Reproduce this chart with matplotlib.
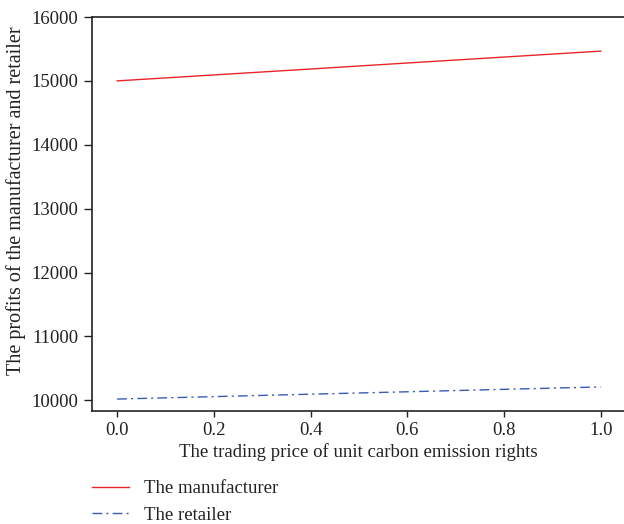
import numpy as np
import matplotlib.pyplot as plt

# ------------------------
# Data
# ------------------------
price = [0.0, 0.2, 0.4, 0.6, 0.8, 1.0]
manufacturer = [15000, 15093, 15186, 15280, 15373, 15466]
retailer = [10020, 10058, 10096, 10134, 10172, 10210]

yticks = [10000, 11000, 12000, 13000, 14000, 15000, 16000]
xticks = [0.0, 0.2, 0.4, 0.6, 0.8, 1.0]

plt.rcParams['font.family'] = ['Liberation Serif', 'DejaVu Serif']

fig = plt.figure(figsize=(6.24, 5.24), dpi=100)
ax = fig.add_axes([92 / 624, 113 / 524, 1 - 92 / 624, (411 - 17) / 524])

ax.plot(price, manufacturer, color='#e8262a', lw=1.0, label='The manufacturer')
ax.plot(price, retailer, color='#3a5bb5', lw=1.0, linestyle=(0, (7, 3, 1.5, 3)),
        label='The retailer')

ax.set_xlim(-0.052, 1.048)
ax.set_ylim(9833, 16000)
ax.set_xticks(xticks)
ax.set_xticklabels([f"{v:.1f}" for v in xticks])
ax.set_yticks(yticks)

for s in ['left', 'bottom', 'top']:
    ax.spines[s].set_linewidth(1.2)
    ax.spines[s].set_color('#222222')
ax.spines['right'].set_visible(False)

ax.tick_params(axis='y', length=6, width=1.0, labelsize=13.5, colors='#222222', pad=4)
ax.tick_params(axis='x', length=4, width=1.0, labelsize=13.5, colors='#222222', pad=4)

ax.set_xlabel('The trading price of unit carbon emission rights', fontsize=13.5,
              color='#222222', labelpad=3)
ax.set_ylabel('The profits of the manufacturer and retailer', fontsize=14.5,
              color='#222222')
ax.yaxis.set_label_coords(-66 / 532, 0.533)

leg = fig.legend(loc='upper left', bbox_to_anchor=(92 / 624, 1 - 480 / 524),
                 frameon=False, fontsize=13.5, handlelength=1.95,
                 labelspacing=0.5, handletextpad=0.8,
                 borderpad=0, borderaxespad=0)
for t in leg.get_texts():
    t.set_color('#222222')

plt.savefig('out.png', dpi=100)
plt.close()
